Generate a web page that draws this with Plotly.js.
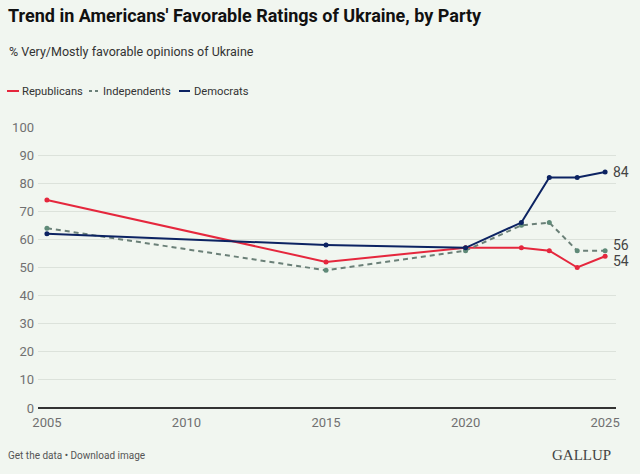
<!DOCTYPE html>
<html>
<head>
<meta charset="utf-8">
<script src="https://cdn.plot.ly/plotly-3.0.1.min.js"></script>
<style>html,body{margin:0;padding:0;background:#f1f6f0;}#chart{width:640px;height:474px;}</style>
</head>
<body>
<div id="chart"></div>
<script>
const years = [2005, 2015, 2020, 2022, 2023, 2024, 2025];
const republicans = [74, 52, 57, 57, 56, 50, 54];
const independents = [64, 49, 56, 65, 66, 56, 56];
const democrats = [62, 58, 57, 66, 82, 82, 84];
const seriesNames = ['Republicans', 'Independents', 'Democrats'];
const xTicks = [2005, 2010, 2015, 2020, 2025];

const red = '#e5273d', gray = '#6b8078', navy = '#0c2362';
const colors = [red, gray, navy];
const traces = [
  {x: years, y: republicans, name: seriesNames[0], mode: 'lines+markers',
   line: {color: red, width: 2}, marker: {color: red, size: 5}},
  {x: years, y: independents, name: seriesNames[1], mode: 'lines+markers',
   line: {color: gray, width: 2, dash: '5px,4px'}, marker: {color: '#5f8a78', size: 5}},
  {x: years, y: democrats, name: seriesNames[2], mode: 'lines+markers',
   line: {color: navy, width: 2}, marker: {color: navy, size: 5}}
];

const W = 578, H = 281, L = 38, B = 408;
const px = v => (v - L) / W;
const py = v => (B - v) / H;

const last = years.length - 1;
const endLabels = [
  {v: democrats[last], dy: 0},
  {v: independents[last], dy: 6},
  {v: republicans[last], dy: -5}
];

const font = 'Roboto, sans-serif';
const annotations = endLabels.map(e => ({
  x: years[last], y: e.v, xref: 'x', yref: 'y', text: String(e.v),
  xanchor: 'left', yanchor: 'middle', xshift: 6, yshift: e.dy, showarrow: false,
  font: {family: font, size: 14, color: '#444'}
}));
annotations.push(
  {xref: 'paper', yref: 'paper', x: px(7), y: py(51), xanchor: 'left', yanchor: 'middle',
   text: '% Very/Mostly favorable opinions of Ukraine', showarrow: false,
   font: {family: font, size: 12.5, color: '#333'}},
  {xref: 'paper', yref: 'paper', x: px(6), y: py(455), xanchor: 'left', yanchor: 'middle',
   text: 'Get the data • Download image', showarrow: false,
   font: {family: font, size: 10, color: '#555'}},
  {xref: 'paper', yref: 'paper', x: px(613), y: py(455), xanchor: 'right', yanchor: 'middle',
   text: 'GALLUP', showarrow: false,
   font: {family: 'Liberation Serif, serif', size: 15, color: '#444'}}
);

// compact legend
const legendPos = [{l0: 7, l1: 19, t: 20}, {l0: 89, l1: 99, t: 101}, {l0: 179, l1: 190, t: 192}];
const shapes = [];
legendPos.forEach((p, i) => {
  shapes.push({type: 'line', xref: 'paper', yref: 'paper', x0: px(p.l0), x1: px(p.l1),
    y0: py(91), y1: py(91), line: {color: colors[i], width: 2, dash: i === 1 ? '3px,3px' : 'solid'}});
  annotations.push({xref: 'paper', yref: 'paper', x: px(p.t), y: py(91), xanchor: 'left', yanchor: 'middle',
    text: seriesNames[i], showarrow: false, font: {family: font, size: 11.2, color: '#333'}});
});

const layout = {
  width: 640, height: 474,
  paper_bgcolor: '#f1f6f0', plot_bgcolor: '#f1f6f0',
  margin: {l: 38, r: 24, t: 127, b: 66},
  title: {text: '<b>Trend in Americans\' Favorable Ratings of Ukraine, by Party</b>',
    x: 0.0125, xanchor: 'left', xref: 'container', y: 0.966, yanchor: 'middle', yref: 'container',
    font: {family: font, size: 18, color: '#111'}},
  showlegend: false,
  xaxis: {range: [2004.68, 2025.39], tickvals: xTicks, ticktext: xTicks.map(String),
    showgrid: false, zeroline: false, showline: false, ticks: '', ticklabelstandoff: 5,
    tickfont: {family: font, size: 13, color: '#707070'}, fixedrange: true},
  yaxis: {range: [0, 100], dtick: 10, tick0: 0, showgrid: true, gridcolor: '#dce2db', gridwidth: 1,
    zeroline: true, zerolinecolor: '#333', zerolinewidth: 1.5, ticks: '', ticklabelstandoff: 3,
    tickfont: {family: font, size: 13, color: '#707070'}, fixedrange: true},
  annotations: annotations,
  shapes: shapes
};

Plotly.newPlot('chart', traces, layout, {displayModeBar: false, staticPlot: true});
</script>
</body>
</html>
